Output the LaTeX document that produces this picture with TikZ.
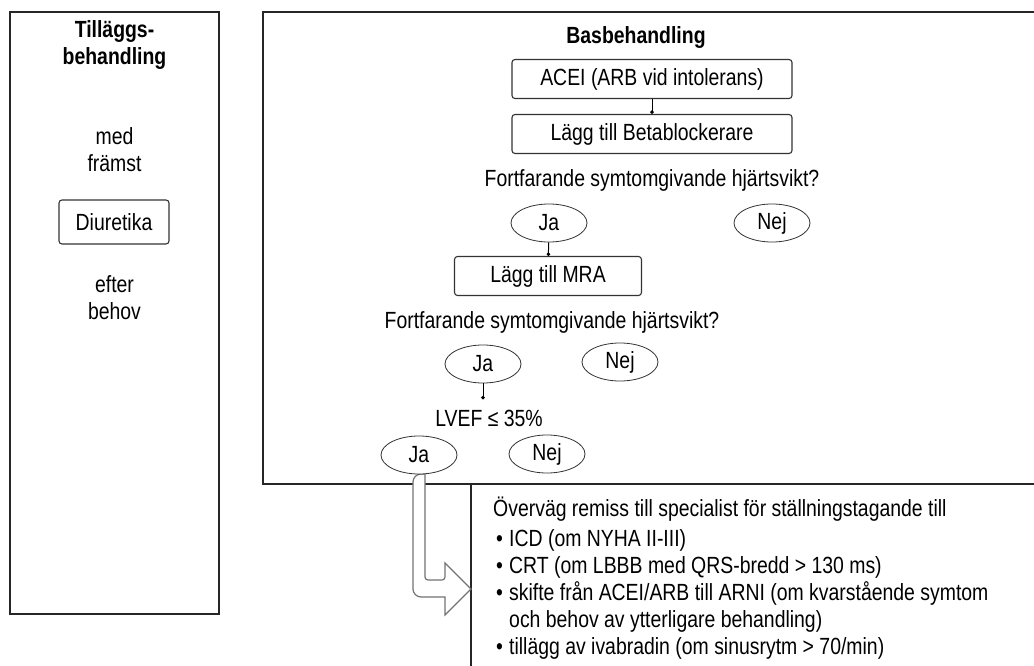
\documentclass[tikz,border=0pt]{standalone}
\usepackage{fontspec}
\setmainfont{Liberation Sans}[FakeStretch=0.83]
\usetikzlibrary{positioning}
\usetikzlibrary{shapes.geometric}
\usetikzlibrary{arrows.meta}
\usetikzlibrary{calc}
\tikzset{
  frame/.style={line width=1.4pt, draw=black!85},
  stepbox/.style={draw=black!80, line width=1.1pt, rounded corners=3pt, minimum height=39pt, inner sep=0pt},
  answer/.style={draw=black!80, ellipse, line width=0.8pt, minimum width=76pt, minimum height=38pt, inner sep=0pt, fill=white},
  link/.style={line width=1pt, -{Circle[length=3.5pt]}},
  hollow/.style={draw=black!55, line width=1.2pt, fill=white}
}

\begin{document}
\fontsize{23.4}{27}\selectfont
\begin{tikzpicture}[x=1pt, y=-1pt]
  \useasboundingbox (0,0) rectangle (1034,666);

  % add-on column
  \draw [frame] (10,12) rectangle (219,614);
  \node [align=center, font=\bfseries] (tillagg) at (114.5,45) {Tilläggs-\\behandling};
  \node [align=center] (med) at (114.5,150) {med\\främst};
  \node [stepbox, minimum width=110pt, minimum height=44pt] (diur) at (114,222) {Diuretika};
  \node [align=center] (efter) at (114.5,298) {efter\\behov};

  % base treatment frame
  \draw [frame] (1034,12) -- (263,12) -- (263,484) -- (1034,484);
  \draw [frame] (471,484) -- (471,666);

  \node [font=\bfseries] (bas) at (636,38) {Basbehandling};
  \node [stepbox, minimum width=280pt] (acei) at (652,79) {ACEI (ARB vid intolerans)};
  \node [stepbox, minimum width=280pt] (beta) at (652,134) {Lägg till Betablockerare};
  \draw [link] (acei) -- (beta);

  % first question
  \node (q1) at (652,180) {Fortfarande symtomgivande hjärtsvikt?};
  \node [answer] (ja1) at (549,223) {Ja};
  \node [answer] (nej1) at (772,223) {Nej};
  \node [stepbox, minimum width=187pt] (mra) at (548,276) {Lägg till MRA};
  \draw [link] (ja1) -- (mra);

  % second question
  \node (q2) at (552,322) {Fortfarande symtomgivande hjärtsvikt?};
  \node [answer] (ja2) at (483,364) {Ja};
  \node [answer] (nej2) at (620,362) {Nej};
  \node (lvef) at (489,418) {LVEF ≤ 35\%};
  \coordinate (lvefin) at ($(ja2.south)+(0,16)$);
  \draw [link] (ja2) -- (lvefin);

  % ejection fraction
  \draw [hollow] (445,563) -- (471,589) -- (445,615) -- (445,597)
    [rounded corners=8pt] -- (413,597) -- (413,474)
    [sharp corners] -- (425,474)
    [rounded corners=3pt] -- (425,580) -- (445,580) [sharp corners] -- cycle;
  \node [answer] (ja3) at (419,455) {Ja};
  \node [answer] (nej3) at (547,454) {Nej};

  % referral
  \node [anchor=north west, align=left, inner sep=0pt] (remiss) at (493,497)
    {Överväg remiss till specialist för ställningstagande till\\[3pt]
     \hspace*{3pt}\makebox[13pt][l]{\textbullet}ICD (om NYHA II-III)\\
     \hspace*{3pt}\makebox[13pt][l]{\textbullet}CRT (om LBBB med QRS-bredd > 130 ms)\\
     \hspace*{3pt}\makebox[13pt][l]{\textbullet}skifte från ACEI/ARB till ARNI (om kvarstående symtom\\
     \hspace*{16pt}och behov av ytterligare behandling)\\
     \hspace*{3pt}\makebox[13pt][l]{\textbullet}tillägg av ivabradin (om sinusrytm > 70/min)};
\end{tikzpicture}
\end{document}
